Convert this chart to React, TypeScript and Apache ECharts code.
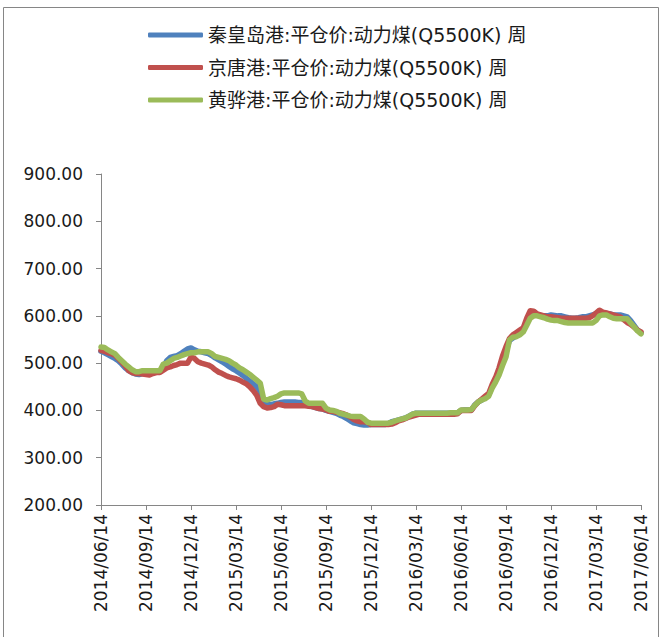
import React, { useEffect, useRef } from "react";
import * as echarts from "echarts";

const seriesNames = [
  "秦皇岛港:平仓价:动力煤(Q5500K) 周",
  "京唐港:平仓价:动力煤(Q5500K) 周",
  "黄骅港:平仓价:动力煤(Q5500K) 周",
];

const tickLabels = [
  "2014/06/14", "2014/09/14", "2014/12/14", "2015/03/14", "2015/06/14",
  "2015/09/14", "2015/12/14", "2016/03/14", "2016/06/14", "2016/09/14",
  "2016/12/14", "2017/03/14", "2017/06/14",
];

const yTicks = [200, 300, 400, 500, 600, 700, 800, 900];

// weekly prices, 157 weeks
const qinhuangdao = [
  525, 522, 518, 514, 510, 505, 498, 490, 484, 480,
  477, 476, 478, 480, 480, 481, 482, 484, 490, 505,
  512, 514, 516, 520, 525, 530, 532, 528, 525, 524,
  522, 520, 516, 511, 507, 503, 498, 493, 488, 484,
  479, 474, 468, 462, 456, 450, 440, 415, 412, 412,
  414, 415, 417, 418, 418, 418, 418, 417, 417, 412,
  410, 408, 406, 404, 403, 400, 398, 396, 394, 390,
  387, 383, 378, 374, 372, 370, 369, 369, 370, 370,
  370, 370, 370, 372, 376, 378, 380, 382, 384, 388,
  392, 394, 394, 394, 394, 394, 394, 394, 394, 394,
  394, 394, 394, 395, 400, 401, 401, 401, 412, 418,
  422, 428, 433, 450, 465, 480, 505, 525, 548, 553,
  558, 562, 570, 588, 605, 606, 603, 601, 600, 600,
  602, 601, 600, 600, 598, 596, 595, 595, 596, 598,
  598, 600, 602, 604, 606, 606, 605, 604, 602, 602,
  602, 600, 598, 590, 580, 570, 564,
];

const jingtang = [
  527, 525, 522, 520, 517, 510, 502, 494, 484, 480,
  478, 478, 477, 476, 475, 478, 480, 480, 485, 490,
  492, 495, 497, 500, 500, 500, 513, 510, 503, 500,
  498, 496, 492, 486, 481, 478, 474, 471, 469, 467,
  464, 460, 456, 450, 442, 432, 415, 408, 405, 406,
  408, 413, 412, 410, 410, 410, 410, 410, 410, 410,
  409, 408, 406, 404, 403, 401, 398, 398, 396, 395,
  393, 390, 386, 381, 378, 376, 376, 375, 370, 370,
  370, 370, 370, 370, 371, 374, 378, 380, 383, 386,
  388, 390, 392, 392, 392, 392, 392, 392, 392, 392,
  392, 392, 392, 393, 400, 400, 400, 400, 410, 418,
  424, 430, 436, 455, 470, 490, 515, 535, 552, 560,
  565, 570, 575, 595, 611, 610, 604, 602, 600, 598,
  598, 597, 596, 595, 595, 595, 595, 595, 595, 595,
  595, 596, 600, 606, 612, 608, 606, 604, 602, 600,
  598, 592, 586, 582, 576, 570, 566,
];

const huanghua = [
  534, 533, 528, 524, 520, 512, 505, 498, 492, 486,
  482, 482, 484, 484, 484, 484, 484, 484, 498, 500,
  505, 510, 512, 515, 518, 520, 522, 522, 524, 524,
  524, 524, 520, 514, 512, 510, 508, 505, 500, 496,
  490, 486, 481, 476, 470, 464, 458, 424, 422, 425,
  427, 430, 435, 437, 437, 437, 437, 437, 435, 420,
  415, 415, 415, 415, 415, 405, 401, 400, 398, 394,
  392, 390, 388, 387, 387, 387, 382, 375, 373, 373,
  373, 373, 373, 373, 375, 378, 380, 382, 384, 388,
  392, 394, 394, 394, 394, 394, 394, 394, 394, 394,
  394, 395, 395, 395, 401, 401, 401, 402, 411, 418,
  422, 425, 430, 447, 460, 475, 495, 513, 549, 555,
  556, 560, 566, 580, 595, 600, 600, 598, 596, 593,
  591, 590, 590, 588, 586, 585, 585, 585, 585, 585,
  585, 585, 585, 590, 600, 602, 602, 598, 595, 594,
  594, 594, 594, 585, 577, 568, 562,
];

const colors = ["#4F81BD", "#C0504D", "#9BBB59"];

function weekLabels(n: number): string[] {
  const out: string[] = [];
  const start = new Date(2014, 5, 14);
  for (let i = 0; i < n; i++) {
    const d = new Date(start.getTime() + i * 7 * 86400000);
    const m = String(d.getMonth() + 1).padStart(2, "0");
    const day = String(d.getDate()).padStart(2, "0");
    out.push(`${d.getFullYear()}/${m}/${day}`);
  }
  return out;
}

export default function App() {
  const ref = useRef<HTMLDivElement>(null);
  useEffect(() => {
    if (!ref.current) return;
    const chart = echarts.init(ref.current, undefined, { renderer: "svg" });
    const weeks = weekLabels(qinhuangdao.length);
    const font = "'DejaVu Sans', 'Noto Sans CJK SC', sans-serif";
    const axisColor = "#868686";
    const dataSets = [qinhuangdao, jingtang, huanghua];
    chart.setOption({
      animation: false,
      backgroundColor: "#ffffff",
      color: colors,
      graphic: [
        {
          type: "rect",
          shape: { x: 3.5, y: 7.5, width: 655, height: 640 },
          style: { fill: "none", stroke: axisColor, lineWidth: 1 },
          silent: true,
        },
      ],
      legend: {
        orient: "vertical",
        left: 148,
        top: 25,
        padding: 0,
        itemWidth: 55,
        itemHeight: 5,
        itemGap: 12.5,
        icon: "roundRect",
        textStyle: {
          fontFamily: font,
          fontSize: 19,
          lineHeight: 20,
          color: "#1a1a1a",
        },
        data: seriesNames,
      },
      grid: { left: 101, right: 23, top: 174, bottom: 132, containLabel: false },
      xAxis: [
        {
          type: "category",
          data: tickLabels,
          boundaryGap: false,
          position: "bottom",
          axisLine: { show: true, lineStyle: { color: axisColor, width: 1 } },
          axisTick: { show: true, length: 5, inside: false, lineStyle: { color: axisColor } },
          axisLabel: {
            rotate: 90,
            margin: 9,
            interval: 0,
            fontFamily: font,
            fontSize: 17,
            color: "#1a1a1a",
          },
          splitLine: { show: false },
        },
        {
          type: "category",
          data: weeks,
          boundaryGap: false,
          show: false,
        },
      ],
      yAxis: {
        type: "value",
        min: 200,
        max: 900,
        interval: 100,
        axisLine: { show: true, lineStyle: { color: axisColor, width: 1 } },
        axisTick: { show: true, length: 5, inside: false, lineStyle: { color: axisColor } },
        axisLabel: {
          margin: 18,
          fontFamily: font,
          fontSize: 17,
          color: "#1a1a1a",
          formatter: (v: number) => (yTicks.includes(v) ? v.toFixed(2) : ""),
        },
        splitLine: { show: false },
      },
      series: seriesNames.map((name, i) => ({
        name,
        type: "line",
        xAxisIndex: 1,
        data: dataSets[i],
        symbol: "none",
        smooth: false,
        lineStyle: { width: 5.5, color: colors[i], cap: "round", join: "round" },
        itemStyle: { color: colors[i] },
        z: 2 + i,
      })),
    });
    return () => chart.dispose();
  }, []);
  return (
    <div
      ref={ref}
      style={{ position: "fixed", left: 0, top: 0, width: 664, height: 637 }}
    />
  );
}
